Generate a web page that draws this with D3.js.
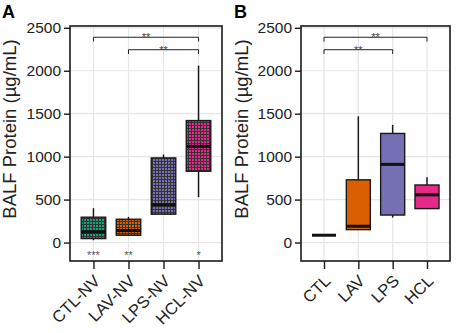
<!DOCTYPE html>
<html>
<head>
<meta charset="utf-8">
<script src="https://cdn.jsdelivr.net/npm/d3@7"></script>
<style>
  body { margin: 0; background: #fff; }
  svg { display: block; font-family: "Liberation Sans", Arial, Helvetica, sans-serif; }
</style>
</head>
<body>
<svg id="chart" width="457" height="333"></svg>
<script>
// Panel A data (box stats)
const catsA = ["CTL-NV", "LAV-NV", "LPS-NV", "HCL-NV"];
const lowA  = [27, 80, 330, 530];
const q1A   = [46, 85, 330, 830];
const medA  = [124, 140, 440, 1120];
const q3A   = [295, 271, 985, 1420];
const highA = [400, 299, 1025, 2060];
const starsA = ["***", "**", "", "*"];
const bracketsA = [
    { from: "CTL-NV", to: "HCL-NV", y: 2390, label: "**" },
    { from: "LAV-NV", to: "HCL-NV", y: 2245, label: "**" }
];

// Panel B data
const catsB = ["CTL", "LAV", "LPS", "HCL"];
const lowB  = [85, 150, 290, 395];
const q1B   = [85, 150, 320, 395];
const medB  = [85, 190, 910, 555];
const q3B   = [85, 730, 1270, 670];
const highB = [85, 1470, 1370, 760];
const bracketsB = [
    { from: "CTL", to: "HCL", y: 2390, label: "**" },
    { from: "CTL", to: "LPS", y: 2245, label: "**" }
];

const colors = ["#1b9e77", "#d95f02", "#7570b3", "#e7298a"];
const yTicks = [0, 500, 1000, 1500, 2000, 2500];

const svg = d3.select("#chart");
const defs = svg.append("defs");

// checker pattern for panel A boxes
colors.forEach((c, i) => {
    const p = defs.append("pattern")
        .attr("id", "pat" + i)
        .attr("patternUnits", "userSpaceOnUse")
        .attr("width", 3).attr("height", 3);
    p.append("rect").attr("width", 3).attr("height", 3).attr("fill", "#333");
    p.append("rect").attr("width", 2).attr("height", 2).attr("fill", c);
});

function drawPanel(opt) {
    const { left, right, top, bottom, cats, low, q1, med, q3, high, patterned } = opt;

    const x = d3.scalePoint().domain(cats).range([left, right]).padding(0.67);
    const y = d3.scaleLinear().domain([-215, 2521]).range([bottom, top]);
    const bw = x.step() * 0.7;

    const g = svg.append("g");

    // grid
    g.selectAll(".hgrid").data(yTicks).enter().append("line")
        .attr("x1", left).attr("x2", right)
        .attr("y1", d => y(d)).attr("y2", d => y(d))
        .attr("stroke", "#e6e6e6").attr("stroke-width", 1.2);
    g.selectAll(".vgrid").data(cats).enter().append("line")
        .attr("x1", d => x(d)).attr("x2", d => x(d))
        .attr("y1", top).attr("y2", bottom)
        .attr("stroke", "#e6e6e6").attr("stroke-width", 1.2);

    const rows = cats.map((c, i) => ({ c, i, lo: low[i], q1: q1[i], med: med[i], q3: q3[i], hi: high[i] }));

    // whiskers
    g.selectAll(".whisk").data(rows).enter().append("line")
        .attr("x1", d => x(d.c)).attr("x2", d => x(d.c))
        .attr("y1", d => y(d.hi)).attr("y2", d => y(d.lo))
        .attr("stroke", "#1a1a1a").attr("stroke-width", 1.5);

    // boxes
    g.selectAll(".box").data(rows).enter().append("rect")
        .attr("x", d => x(d.c) - bw / 2)
        .attr("width", bw)
        .attr("y", d => y(d.q3))
        .attr("height", d => y(d.q1) - y(d.q3))
        .attr("fill", d => patterned ? `url(#pat${d.i})` : colors[d.i])
        .attr("stroke", "#1a1a1a").attr("stroke-width", 1.4);

    // medians
    g.selectAll(".med").data(rows).enter().append("line")
        .attr("x1", d => x(d.c) - bw / 2).attr("x2", d => x(d.c) + bw / 2)
        .attr("y1", d => y(d.med)).attr("y2", d => y(d.med))
        .attr("stroke", "#111").attr("stroke-width", 3);

    // brackets
    opt.brackets.forEach(b => {
        const x1 = x(b.from), x2 = x(b.to), yy = y(b.y), yd = y(b.y - 50);
        g.append("path")
            .attr("d", `M${x1},${yd}V${yy}H${x2}V${yd}`)
            .attr("fill", "none").attr("stroke", "#222").attr("stroke-width", 1);
        g.append("text")
            .attr("x", (x1 + x2) / 2).attr("y", yy + 4)
            .attr("text-anchor", "middle")
            .attr("font-size", 11).attr("fill", "#444")
            .text(b.label);
    });

    if (opt.stars) {
        g.selectAll(".star").data(opt.stars).enter().append("text")
            .attr("x", (d, i) => x(cats[i]))
            .attr("y", y(-110) + 7)
            .attr("text-anchor", "middle")
            .attr("font-size", 11).attr("fill", "#555")
            .text(d => d);
    }

    // border
    g.append("rect")
        .attr("x", left).attr("y", top)
        .attr("width", right - left).attr("height", bottom - top)
        .attr("fill", "none").attr("stroke", "#1a1a1a").attr("stroke-width", 1.6);

    // y axis
    const ya = g.append("g")
        .attr("transform", `translate(${left},0)`)
        .call(d3.axisLeft(y).tickValues(yTicks).tickFormat(d3.format("d")).tickSize(6).tickPadding(3));
    ya.select(".domain").remove();
    ya.selectAll("line").attr("stroke", "#1a1a1a").attr("stroke-width", 1.4);
    ya.selectAll("text").attr("font-size", 15.5).attr("fill", "#222")
        .attr("font-family", "Liberation Sans, Arial, sans-serif");

    // x axis
    const xa = g.append("g")
        .attr("transform", `translate(0,${bottom})`)
        .call(d3.axisBottom(x).tickSize(8).tickPadding(2));
    xa.select(".domain").remove();
    xa.selectAll("line").attr("stroke", "#1a1a1a").attr("stroke-width", 1.4);
    xa.selectAll("text")
        .attr("font-size", 16.5).attr("fill", "#222")
        .attr("font-family", "Liberation Sans, Arial, sans-serif")
        .attr("text-anchor", "end")
        .attr("dy", null)
        .attr("y", null)
        .attr("transform", "translate(7,21) rotate(-45)");

    // y title
    g.append("text")
        .attr("transform", `translate(${opt.titleX},129) rotate(-90)`)
        .attr("text-anchor", "middle")
        .attr("dy", "0.35em")
        .attr("font-size", 18.5).attr("fill", "#222")
        .text("BALF Protein (µg/mL)");

    // panel letter
    svg.append("text")
        .attr("x", opt.letterX).attr("y", 18)
        .attr("font-size", 18).attr("font-weight", "bold")
        .text(opt.letter);
}

drawPanel({
    left: 70, right: 222, top: 26, bottom: 261,
    cats: catsA, low: lowA, q1: q1A, med: medA, q3: q3A, high: highA,
    patterned: true, brackets: bracketsA, stars: starsA,
    titleX: 10, letter: "A", letterX: 2
});

drawPanel({
    left: 301, right: 450, top: 26, bottom: 261,
    cats: catsB, low: lowB, q1: q1B, med: medB, q3: q3B, high: highB,
    patterned: false, brackets: bracketsB, stars: null,
    titleX: 242, letter: "B", letterX: 234
});
</script>
</body>
</html>
